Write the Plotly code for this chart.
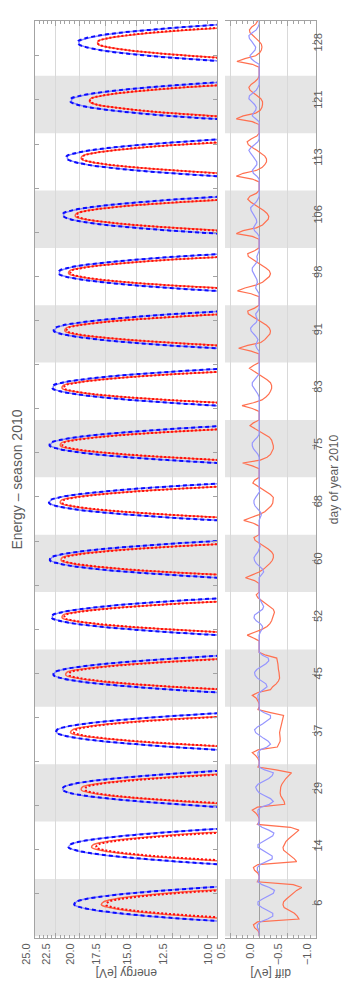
import math
import plotly.graph_objects as go

# one slot per measured day, labelled with the day of year
DAYS = [6, 14, 29, 37, 45, 52, 60, 68, 75, 83, 91, 98, 106, 113, 121, 128]

# time inside a slot (fraction of the slot) for the diff samples; the arcs use S_DIFF[4:20]
S_DIFF = [0.0, 0.05, 0.1, 0.15, 0.2, 0.25, 0.3, 0.35, 0.4, 0.45, 0.5,
          0.55, 0.6, 0.65, 0.7, 0.75, 0.8, 0.85, 0.9, 0.95, 1.0]
S_ARC = S_DIFF[4:20]

# energy [eV], blue reference curve (solid)
BLUE = [
    [7.1, 9.3, 11.7, 14.2, 16.5, 18.4, 19.8, 20.5, 20.3, 19.4, 17.7, 15.6, 13.2, 10.7, 8.4, 6.3],
    [7.5, 9.8, 12.2, 14.7, 17.1, 19.1, 20.4, 21.1, 20.9, 20.0, 18.3, 16.2, 13.7, 11.2, 8.8, 6.7],
    [7.4, 9.8, 12.3, 14.9, 17.4, 19.5, 21.0, 21.7, 21.6, 20.7, 19.1, 16.9, 14.4, 11.8, 9.3, 7.0],
    [7.6, 10.0, 12.6, 15.3, 17.9, 20.1, 21.6, 22.4, 22.3, 21.4, 19.7, 17.4, 14.8, 12.1, 9.5, 7.2],
    [7.6, 10.0, 12.7, 15.4, 18.1, 20.3, 21.9, 22.7, 22.6, 21.7, 19.9, 17.6, 14.9, 12.1, 9.5, 7.1],
    [7.6, 10.0, 12.7, 15.5, 18.2, 20.5, 22.1, 22.9, 22.8, 21.8, 20.0, 17.7, 15.0, 12.2, 9.5, 7.1],
    [7.5, 10.0, 12.7, 15.6, 18.3, 20.6, 22.2, 23.1, 23.0, 22.0, 20.2, 17.8, 15.0, 12.2, 9.5, 7.1],
    [7.5, 10.0, 12.8, 15.6, 18.4, 20.7, 22.4, 23.2, 23.1, 22.1, 20.3, 17.8, 15.1, 12.2, 9.5, 7.1],
    [7.5, 10.0, 12.7, 15.6, 18.3, 20.6, 22.2, 23.1, 23.0, 22.0, 20.2, 17.8, 15.0, 12.2, 9.5, 7.1],
    [7.6, 10.0, 12.7, 15.5, 18.1, 20.3, 22.0, 22.8, 22.7, 21.7, 19.9, 17.6, 14.9, 12.1, 9.5, 7.1],
    [7.6, 10.0, 12.7, 15.4, 18.0, 20.2, 21.8, 22.6, 22.5, 21.6, 19.8, 17.5, 14.9, 12.1, 9.5, 7.1],
    [7.6, 10.0, 12.6, 15.2, 17.7, 19.8, 21.4, 22.1, 22.0, 21.1, 19.5, 17.2, 14.7, 12.1, 9.5, 7.2],
    [7.7, 10.0, 12.5, 15.0, 17.4, 19.5, 20.9, 21.6, 21.6, 20.7, 19.1, 17.0, 14.5, 12.0, 9.5, 7.3],
    [7.8, 10.0, 12.4, 14.9, 17.2, 19.2, 20.5, 21.2, 21.2, 20.3, 18.8, 16.8, 14.4, 11.9, 9.5, 7.3],
    [8.0, 10.2, 12.6, 14.9, 17.1, 19.0, 20.2, 20.8, 20.7, 19.8, 18.3, 16.3, 14.0, 11.6, 9.3, 7.1],
    [7.4, 9.5, 11.8, 14.0, 16.2, 18.0, 19.3, 20.0, 20.0, 19.3, 18.0, 16.2, 14.0, 11.8, 9.5, 7.4],
]

# energy [eV], red reference curve (solid)
RED = [
    [5.0, 6.9, 9.1, 11.5, 13.8, 15.8, 17.2, 17.9, 17.7, 16.7, 15.0, 12.9, 10.5, 8.2, 6.1, 4.3],
    [4.9, 6.9, 9.2, 11.8, 14.3, 16.4, 18.0, 18.8, 18.6, 17.5, 15.6, 13.3, 10.8, 8.3, 6.1, 4.2],
    [4.7, 6.7, 9.2, 11.9, 14.7, 17.1, 18.9, 19.8, 19.7, 18.6, 16.6, 14.1, 11.4, 8.7, 6.3, 4.3],
    [4.7, 6.8, 9.4, 12.3, 15.3, 17.9, 19.9, 20.9, 20.7, 19.5, 17.4, 14.7, 11.7, 8.9, 6.4, 4.3],
    [4.9, 7.1, 9.7, 12.7, 15.7, 18.3, 20.3, 21.4, 21.3, 20.0, 17.8, 15.0, 12.0, 9.1, 6.6, 4.5],
    [4.8, 7.0, 9.7, 12.8, 15.9, 18.6, 20.7, 21.8, 21.7, 20.4, 18.1, 15.2, 12.1, 9.1, 6.5, 4.4],
    [4.8, 7.0, 9.7, 12.9, 16.0, 18.7, 20.8, 21.9, 21.8, 20.5, 18.2, 15.3, 12.2, 9.1, 6.5, 4.4],
    [4.8, 7.0, 9.8, 12.8, 16.0, 18.8, 20.9, 22.0, 21.9, 20.6, 18.3, 15.4, 12.2, 9.2, 6.5, 4.4],
    [4.8, 7.0, 9.8, 12.8, 16.0, 18.8, 20.9, 22.0, 21.9, 20.6, 18.3, 15.4, 12.2, 9.2, 6.5, 4.4],
    [4.8, 7.1, 9.8, 12.9, 16.0, 18.7, 20.7, 21.8, 21.7, 20.4, 18.2, 15.4, 12.3, 9.2, 6.6, 4.4],
    [4.9, 7.1, 9.9, 12.8, 15.8, 18.5, 20.5, 21.5, 21.4, 20.2, 18.0, 15.2, 12.2, 9.3, 6.6, 4.5],
    [5.0, 7.2, 9.8, 12.8, 15.7, 18.2, 20.1, 21.1, 21.0, 19.8, 17.7, 15.1, 12.2, 9.2, 6.7, 4.6],
    [4.9, 7.1, 9.7, 12.4, 15.2, 17.6, 19.5, 20.4, 20.3, 19.2, 17.2, 14.7, 11.8, 9.1, 6.6, 4.6],
    [5.2, 7.2, 9.7, 12.3, 15.0, 17.3, 19.0, 19.8, 19.7, 18.7, 16.8, 14.5, 11.8, 9.2, 6.8, 4.9],
    [5.7, 7.8, 10.1, 12.6, 14.9, 16.9, 18.4, 19.0, 18.9, 17.9, 16.2, 14.0, 11.6, 9.1, 6.9, 5.0],
    [5.0, 6.9, 9.1, 11.5, 13.8, 15.8, 17.4, 18.2, 18.2, 17.4, 15.8, 13.8, 11.5, 9.1, 6.9, 5.0],
]

# diff [eV] = dotted red - solid red
RED_DIFF = [
    [0, 0, .02, .08, .1, .03, -.7, -.67, -.62, -.52, -.44, -.42, -.43, -.48, -.54, -.6, -.66, -.75, -.6, .03, 0],
    [0, 0, .02, .08, .1, .02, -.66, -.62, -.55, -.48, -.43, -.42, -.44, -.47, -.52, -.58, -.64, -.7, -.55, .03, 0],
    [0, 0, .02, .06, .12, .03, -.45, -.44, -.41, -.38, -.37, -.37, -.38, -.4, -.43, -.47, -.52, -.57, -.3, .02, 0],
    [0, 0, .02, .06, .12, .02, -.32, -.35, -.37, -.37, -.36, -.36, -.37, -.38, -.39, -.4, -.42, -.43, -.2, .02, 0],
    [0, 0, .02, .05, .12, .02, -.2, -.24, -.3, -.34, -.36, -.36, -.35, -.34, -.34, -.33, -.32, -.31, -.12, 0, 0],
    [0, 0, 0, 0, .1, .21, .08, -.05, -.14, -.19, -.22, -.24, -.26, -.27, -.25, -.18, -.1, -.04, .02, .05, 0],
    [0, 0, 0, 0, .08, .24, .12, 0, -.08, -.14, -.19, -.23, -.25, -.25, -.22, -.16, -.08, 0, .07, .09, 0],
    [0, 0, 0, 0, .1, .27, .14, 0, -.1, -.16, -.21, -.24, -.25, -.25, -.2, -.12, -.04, .04, .11, .08, 0],
    [0, 0, 0, 0, .12, .29, -.02, -.14, -.2, -.23, -.25, -.25, -.24, -.22, -.18, -.1, 0, .08, .16, .1, 0],
    [0, 0, 0, 0, .12, .3, .1, -.05, -.12, -.17, -.2, -.22, -.22, -.2, -.14, -.06, .03, .11, .17, .1, 0],
    [0, 0, 0, 0, .14, .36, .2, -.03, -.1, -.15, -.19, -.2, -.18, -.13, -.06, .03, .11, .19, .2, .08, 0],
    [0, 0, 0, 0, .14, .38, .25, .06, -.06, -.13, -.18, -.2, -.18, -.12, -.04, .05, .13, .19, .2, .08, 0],
    [0, 0, 0, 0, .12, .4, .28, .05, -.06, -.12, -.16, -.17, -.14, -.08, 0, .08, .15, .2, .16, .05, 0],
    [0, 0, 0, 0, .12, .4, .28, .05, -.05, -.1, -.13, -.13, -.1, -.04, .04, .12, .19, .21, .14, .04, 0],
    [0, 0, 0, 0, .12, .4, .28, .06, -.02, -.05, -.06, -.06, -.03, .03, .1, .16, .18, .14, .07, .02, 0],
    [0, 0, 0, 0, .12, .39, .25, .06, -.01, -.04, -.05, -.04, 0, .06, .12, .16, .17, .13, .06, .03, 0],
]

# diff [eV] = dashed blue - solid blue
BLUE_DIFF = [
    [0, 0, 0, .03, .03, -.02, -.15, -.24, -.24, -.15, -.05, .02, .02, -.06, -.16, -.25, -.27, -.18, -.05, .02, 0],
    [0, 0, 0, .03, .03, -.02, -.14, -.23, -.23, -.14, -.05, .02, .02, -.06, -.15, -.24, -.26, -.17, -.05, .02, 0],
    [0, 0, 0, .02, .02, -.03, -.18, -.25, -.2, -.1, 0, .04, .06, .02, -.08, -.17, -.23, -.25, -.1, 0, 0],
    [0, 0, 0, .02, .02, -.02, -.14, -.2, -.16, -.08, 0, .06, .08, .03, -.06, -.14, -.2, -.2, -.08, 0, 0],
    [0, 0, 0, .02, .02, -.01, -.08, -.14, -.12, -.05, .03, .07, .08, .04, -.04, -.12, -.17, -.16, -.06, 0, 0],
    [0, 0, 0, .01, .01, 0, -.02, -.05, -.06, -.02, .05, .09, .08, .02, -.06, -.08, -.05, -.02, 0, 0, 0],
    [0, 0, 0, 0, 0, 0, -.04, -.08, -.06, 0, .05, .08, .09, .06, .02, 0, -.02, 0, 0, 0, 0],
    [0, 0, 0, 0, 0, 0, -.02, -.04, -.02, .03, .07, .09, .09, .06, .02, -.01, 0, 0, 0, 0, 0],
    [0, 0, 0, 0, 0, 0, 0, 0, .02, .06, .1, .12, .12, .08, .03, 0, 0, 0, 0, 0, 0],
    [0, 0, 0, 0, 0, 0, 0, 0, 0, .02, .05, .09, .12, .12, .08, .03, 0, 0, 0, 0, 0],
    [0, 0, 0, 0, 0, .04, .06, .04, .02, .05, .1, .14, .15, .11, .05, .03, .05, .06, .02, 0, 0],
    [0, 0, 0, 0, 0, .03, .06, .05, .03, .04, .07, .1, .12, .12, .08, .04, .03, .04, .02, 0, 0],
    [0, 0, 0, 0, 0, .03, .08, .1, .07, .04, .05, .08, .11, .14, .15, .1, .05, .02, 0, 0, 0],
    [0, 0, 0, 0, 0, .04, .1, .12, .08, .04, .04, .07, .11, .15, .18, .14, .07, .02, 0, 0, 0],
    [0, 0, 0, 0, 0, .06, .12, .1, .06, .05, .08, .13, .18, .17, .11, .05, .02, 0, 0, 0, 0],
    [0, 0, 0, 0, 0, .08, .14, .16, .12, .07, .06, .09, .13, .17, .18, .12, .05, .02, 0, 0, 0],
]

ENERGY_TICKS = [10, 12.5, 15, 17.5, 20, 22.5, 25]
DIFF_TICKS = [0.5, 0.0, -0.5, -1.0]
DIFF_LABELS = ['0.5', '0.0', '\u22120.5', '\u22121.0']

TEXT = '#5b5b5b'
FRAME = '#a3a3a3'
GRID = '#d9d9d9'
BAND = '#e5e5e5'
FONT = 'Liberation Sans, Arial, sans-serif'

# dashed / dotted curves are the solid ones plus their difference
BLUE_DASH = [[e + d for e, d in zip(row, diff[4:20])] for row, diff in zip(BLUE, BLUE_DIFF)]
RED_DOT = [[e + d for e, d in zip(row, diff[4:20])] for row, diff in zip(RED, RED_DIFF)]


def flatten(rows, grid, gaps):
    xs, ys = [], []
    for i, row in enumerate(rows):
        for s, v in zip(grid, row):
            xs.append(v)
            ys.append(i + s)
        if gaps:
            xs.append(None)
            ys.append(None)
    return xs, ys


fig = go.Figure()

for i in range(0, len(DAYS), 2):
    for xr in ['x domain', 'x2 domain']:
        fig.add_shape(type='rect', xref=xr, yref='y', x0=0, x1=1, y0=i, y1=i + 1,
                      fillcolor=BAND, line=dict(width=0), layer='below')

arc_styles = [
    (BLUE, '#8585ff', 1.5, 'solid'),
    (BLUE_DASH, '#0a0aff', 2, '4px,3px'),
    (RED, '#ff6347', 1.5, 'solid'),
    (RED_DOT, '#ff0d0d', 2, '2px,2px'),
]
for rows, color, width, dash in arc_styles:
    x, y = flatten(rows, S_ARC, True)
    fig.add_trace(go.Scatter(x=x, y=y, mode='lines', xaxis='x', yaxis='y', hoverinfo='skip',
                             line=dict(color=color, width=width, dash=dash, shape='spline')))

for rows, color in [(RED_DIFF, '#ff7050'), (BLUE_DIFF, '#9595ff')]:
    x, y = flatten(rows, S_DIFF, False)
    fig.add_trace(go.Scatter(x=x, y=y, mode='lines', xaxis='x2', yaxis='y2', hoverinfo='skip',
                             line=dict(color=color, width=1.2)))

n = len(DAYS)
y_range = [-0.03, n - 0.045]
frame_ticks = [-0.03 + 0.7689 * k for k in range(1, 21)]
day_ticks = [i + 0.555 for i in range(n)]
tick_font = dict(family=FONT, size=11, color=TEXT)

axis_common = dict(showline=True, linecolor=FRAME, linewidth=1, ticks='inside',
                   tickcolor=FRAME, tickfont=tick_font)

fig.update_layout(
    width=350, height=997,
    margin=dict(l=24, r=42, t=12, b=67),
    paper_bgcolor='white', plot_bgcolor='white',
    showlegend=False,
    xaxis=dict(domain=[0, 184 / 284], type='log', range=[math.log10(25), 1.0], anchor='y',
               tickvals=ENERGY_TICKS, ticktext=[f'{v:.1f}' for v in ENERGY_TICKS],
               tickangle=-90, ticklabelshift=9, ticklen=5, mirror='ticks',
               showgrid=True, gridcolor=GRID, zeroline=False,
               minor=dict(tickmode='array', tickvals=[10 + 0.5 * k for k in range(31) if k % 5],
                          ticks='inside', ticklen=3, tickcolor=FRAME, showgrid=False),
               **axis_common),
    xaxis2=dict(domain=[192 / 284, 1], range=[0.6, -1.0], anchor='y2',
                tickvals=DIFF_TICKS, ticktext=DIFF_LABELS,
                tickangle=-90, ticklabelshift=9, ticklen=5, mirror='ticks',
                showgrid=True, gridcolor=GRID,
                zeroline=True, zerolinecolor='#a0a0a0', zerolinewidth=1,
                minor=dict(dtick=0.1, ticks='inside', ticklen=3, tickcolor=FRAME, showgrid=False),
                **axis_common),
    yaxis=dict(domain=[0, 1], range=y_range, anchor='x', tickvals=frame_ticks,
               showticklabels=False, ticklen=4, mirror='ticks', showgrid=False, zeroline=False,
               **axis_common),
    yaxis2=dict(domain=[0, 1], range=y_range, anchor='x2', side='right', tickvals=day_ticks,
                ticktext=[str(d) for d in DAYS], tickangle=-90, ticklabelstandoff=-8,
                ticklen=4, showgrid=False, zeroline=False, **axis_common),
    yaxis3=dict(range=y_range, anchor='x2', overlaying='y2', side='left', tickvals=frame_ticks,
                showticklabels=False, ticklen=4, showgrid=False, zeroline=False, **axis_common),
)

labels = [
    ('Energy \u2013 season 2010', -0.053, 0.5, -90, 14, -4),
    ('day of year 2010', 1.0915, 0.5, -90, 12, -8),
    ('energy [eV]', 0.3257, -0.038, 180, 12, 0),
    ('diff [eV]', 0.838, -0.038, 180, 12, 0),
]
for text, x, y, angle, size, shift in labels:
    fig.add_annotation(text=text, xref='paper', yref='paper', x=x, y=y, xanchor='center',
                       yanchor='middle', textangle=angle, xshift=shift, showarrow=False,
                       font=dict(family=FONT, size=size, color=TEXT))

fig.write_html("out.html")
